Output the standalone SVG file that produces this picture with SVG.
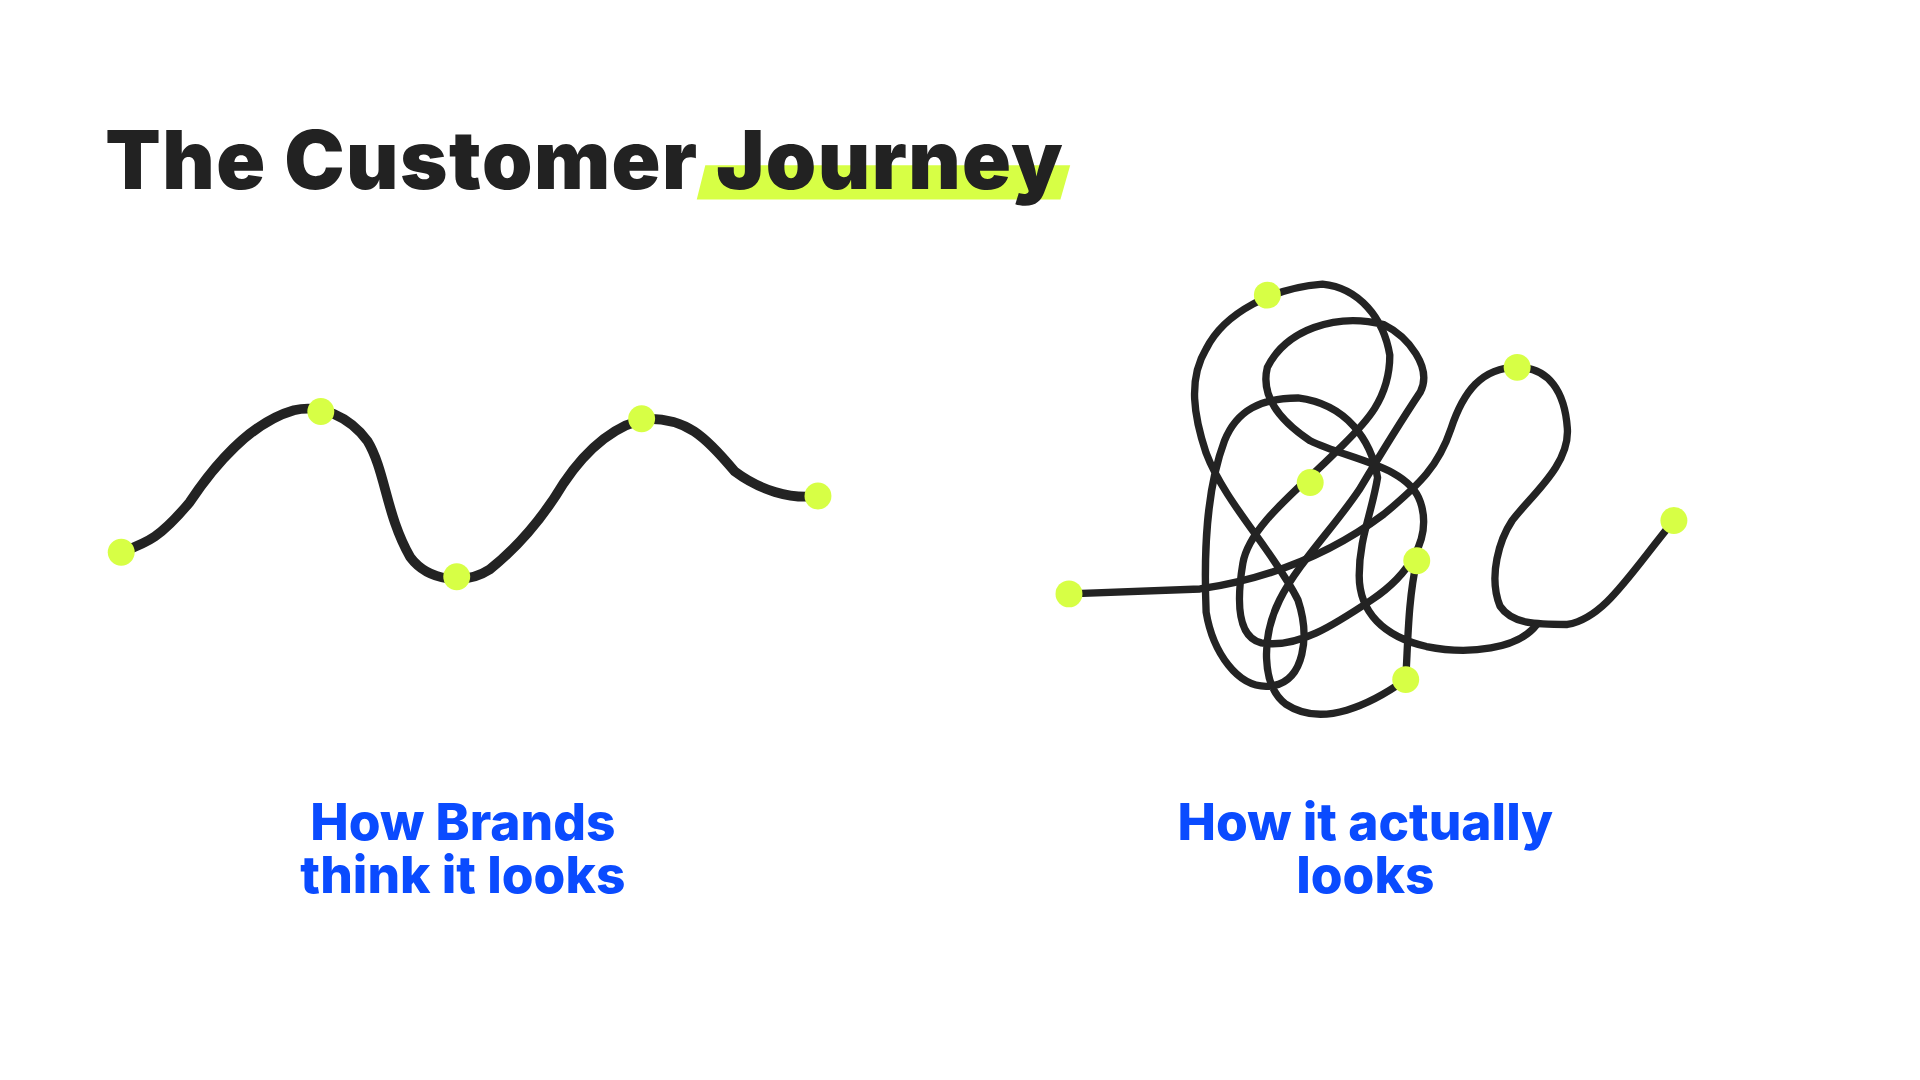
<svg xmlns="http://www.w3.org/2000/svg" width="1920" height="1080" viewBox="0 0 1920 1080">
<style>
.t{font-family:Inter,"Liberation Sans",sans-serif;font-weight:900;fill:#222}
.l{font-family:Inter,"Liberation Sans",sans-serif;font-weight:800;fill:#0a4bff;font-size:42px;text-anchor:middle}
.d{fill:#d7ff45}
.c{fill:none;stroke:#232323;stroke-linecap:round;stroke-linejoin:round}
</style>
<rect width="1920" height="1080" fill="#fff"/>
<g transform="scale(1.2245)">
<g id="title">
<polygon points="576,135 874,135 866,163 569,163" fill="#d7ff45"/>
<text class="t" x="86" y="154" font-size="66" letter-spacing="1.2">The Customer Journey</text>
</g>
<g id="connectors">
<path class="c" stroke-width="8" d="M99,451 C120,443 130,440 155,410 C175,380 205,345 240,335 C262,330 285,340 300,360 C315,385 315,420 335,455 C350,475 380,478 400,465 C425,445 445,420 460,395 C480,365 505,345 530,342 C560,342 575,355 600,385 C620,400 645,408 668,405"/>
<path class="c" stroke-width="6" d="M873,485 L980,481 C1040,472 1090,450 1130,420 C1160,395 1175,380 1185,350 C1195,320 1210,300 1239,300 C1265,300 1278,320 1280,350 C1282,380 1250,405 1235,425 C1225,440 1215,470 1225,495 C1235,510 1255,510 1280,510 C1310,505 1330,470 1367,425"/>
<path class="c" stroke-width="6" d="M1148,555 C1120,575 1080,595 1050,575 C1030,560 1030,520 1045,490 C1060,460 1090,430 1110,400 C1125,375 1140,350 1160,320 C1170,300 1150,275 1130,265 C1090,255 1050,270 1035,300 C1030,320 1040,340 1070,360 C1100,375 1150,380 1160,410 C1170,440 1150,470 1120,490 C1090,510 1060,530 1030,525 C1010,520 1010,490 1015,460 C1020,430 1060,400 1090,370 C1110,350 1135,330 1135,290 C1130,260 1110,235 1080,232 C1040,235 1000,255 985,285 C970,310 975,340 985,370 C1000,410 1040,450 1060,490 C1070,520 1065,555 1040,560 C1010,565 990,530 985,500 C983,450 985,400 1000,360 C1010,335 1030,325 1060,325 C1100,330 1120,360 1125,390 C1120,420 1110,440 1110,470 C1110,500 1130,520 1165,528 C1200,535 1240,530 1255,510 M1157,458 C1150,490 1150,520 1148,555"/>
</g>
<g id="dots-left">
<circle class="d" cx="99" cy="451" r="11"/><circle class="d" cx="262" cy="336" r="11"/><circle class="d" cx="373" cy="471" r="11"/><circle class="d" cx="524" cy="342" r="11"/><circle class="d" cx="668" cy="405" r="11"/>
</g>
<g id="dots-right">
<circle class="d" cx="873" cy="485" r="11"/><circle class="d" cx="1035" cy="241" r="11"/><circle class="d" cx="1239" cy="300" r="11"/><circle class="d" cx="1070" cy="394" r="11"/><circle class="d" cx="1157" cy="458" r="11"/><circle class="d" cx="1148" cy="555" r="11"/><circle class="d" cx="1367" cy="425" r="11"/>
</g>
<g id="label-left"><text class="l" x="378" y="686">How Brands</text><text class="l" x="378" y="729">think it looks</text></g>
<g id="label-right"><text class="l" x="1115" y="686">How it actually</text><text class="l" x="1115" y="729">looks</text></g>
</g>
</svg>
